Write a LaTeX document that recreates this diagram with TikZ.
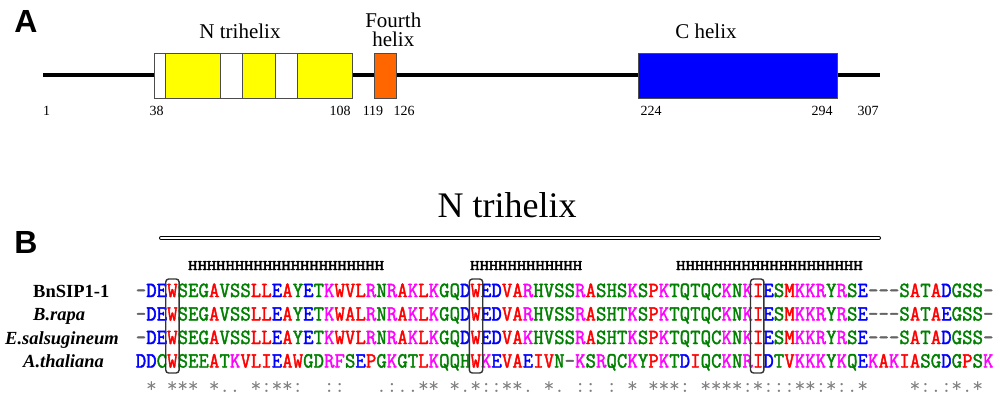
\documentclass[tikz,border=0pt]{standalone}
\usepackage{fontspec}
\usepackage{graphicx}
\setmainfont{Liberation Serif}
\newfontfamily\seqfont{Latin Modern Mono}[FakeBold=2]
\newfontfamily\hfont{Latin Modern Mono}[FakeBold=3]
\newfontfamily\consfont{Latin Modern Mono}
\newfontfamily\panelfont{Liberation Sans}
\definecolor{colb}{RGB}{0,0,255}
\definecolor{colr}{RGB}{255,0,0}
\definecolor{colg}{RGB}{0,128,0}
\definecolor{colm}{RGB}{255,0,255}
\definecolor{coln}{RGB}{100,100,100}
\definecolor{consgray}{RGB}{128,128,128}
\definecolor{domyellow}{RGB}{255,255,0}
\definecolor{domorange}{RGB}{255,102,0}
\definecolor{domblue}{RGB}{0,0,255}
\newcommand\seqrow[3]{\def\rowname{#1}\def\rowy{#2}\def\colidx{0}\seqparse#3\relax\relax}
\def\seqparse#1#2{%
  \ifx\relax#1\else
    \node[res,text=col#1] (\rowname-\colidx) at ({141+10.46*\colidx},\rowy) {\scalebox{1}[1.08]{#2}};%
    \pgfmathtruncatemacro\colidx{\colidx+1}%
    \expandafter\seqparse
  \fi}
\newcommand\consrow[2]{\def\rowy{#1}\def\colidx{0}\consparse#2\relax}
\def\consparse#1{%
  \ifx\relax#1\else
    \if0#1\else\node[cons] (k-\colidx) at ({141+10.46*\colidx},\rowy) {#1};\fi
    \pgfmathtruncatemacro\colidx{\colidx+1}%
    \expandafter\consparse
  \fi}
\begin{document}
\begin{tikzpicture}[x=1pt,y=-1pt,
  res/.style={font=\seqfont\fontsize{20}{20}\selectfont, inner sep=0pt, anchor=base},
  cons/.style={font=\consfont\fontsize{21}{21}\selectfont, text=consgray, inner sep=0pt, anchor=base},
  dom/.style={draw=black!70, line width=0.8pt},
  backbone/.style={line width=4pt},
  domlabel/.style={font=\fontsize{21}{20}\selectfont, inner sep=0pt, anchor=base, align=center},
  posnum/.style={font=\fontsize{14}{14}\selectfont, inner sep=0pt, anchor=base},
  panel/.style={font=\panelfont\bfseries\fontsize{32}{32}\selectfont, inner sep=0pt, anchor=base},
  hrow/.style={font=\hfont\fontsize{18.1}{18.1}\selectfont, inner sep=0pt, anchor=base west},
  species/.style={font=\bfseries\fontsize{18.5}{18.5}\selectfont, inner sep=0pt, anchor=base west},
  hlbox/.style={draw=black!80, line width=1.4pt, rounded corners=3pt},
  dline/.style={line width=0.9pt, double=white, double distance=2.2pt, line cap=round}]
\useasboundingbox (0,0) rectangle (1000,402);
\fill[white] (0,0) rectangle (1000,402);

% ---------- Panel A ----------
\node[panel] (pA) at (26,32) {A};
\coordinate (pstart) at (43,75);
\coordinate (pend) at (880,75);
\draw[backbone] (pstart) -- (pend);
\draw[dom,fill=white] (154,53.5) rectangle (165.7,98.3);
\draw[dom,fill=domyellow] (165.7,53.5) rectangle (220,98.3);
\draw[dom,fill=white] (220,53.5) rectangle (242.3,98.3);
\draw[dom,fill=domyellow] (242.3,53.5) rectangle (275.7,98.3);
\draw[dom,fill=white] (275.7,53.5) rectangle (297.7,98.3);
\draw[dom,fill=domyellow] (297.7,53.5) rectangle (352.7,98.3);
\draw[dom,fill=domorange] (374,53.5) rectangle (396.7,98.3);
\draw[dom,fill=domblue] (638.3,53.5) rectangle (837.7,98.3);
\node[domlabel] (lN) at (240,38) {N trihelix};
\node[domlabel] (lF1) at (393.3,27) {Fourth};
\node[domlabel] (lF2) at (393.3,46) {helix};
\node[domlabel] (lC) at (706,38) {C helix};
\node[posnum] (n1) at (46.7,115) {1};
\node[posnum] (n38) at (156.7,115) {38};
\node[posnum] (n108) at (340,115) {108};
\node[posnum] (n119) at (373,115) {119};
\node[posnum] (n126) at (404,115) {126};
\node[posnum] (n224) at (651,115) {224};
\node[posnum] (n294) at (822,115) {294};
\node[posnum] (n307) at (868,115) {307};

% ---------- Panel B ----------
\node[panel] (pB) at (26,253) {B};
\node[font=\fontsize{36}{36}\selectfont, inner sep=0pt, anchor=base] (title) at (507,217) {N trihelix};
\coordinate (dl1) at (161,238);
\coordinate (dl2) at (879,238);
\draw[dline] (dl1) -- (dl2);
\node[hrow] (h1) at (188,270) {\scalebox{1}[0.8]{HHHHHHHHHHHHHHHHHHHHH}};
\node[hrow] (h2) at (470,270) {\scalebox{1}[0.8]{HHHHHHHHHHHH}};
\node[hrow] (h3) at (676,270) {\scalebox{1}[0.8]{HHHHHHHHHHHHHHHHHHHH}};

\node[species] (s1) at (33,297) {BnSIP1-1};
\node[species] (s2) at (33,320.5) {\itshape B.rapa};
\node[species] (s3) at (5,344) {\itshape E.salsugineum};
\node[species] (s4) at (23,367.5) {\itshape A.thaliana};

\seqrow{a}{297}{n-bDbErWgSgEgGrAgVgSgSrLrLbErAgYbEgTmKrWrVrLmRgNmRrAmKrLmKgGgQbDrWbEbDrVrAmRgHgVgSgSmRrAgSgHgSmKgSrPmKgTgQgTgQgCmKgNmKrIbEgSrMmKmKmRgYmRgSbEn-n-n-gSrAgTrAbDgGgSgSn-}
\seqrow{b}{320.5}{n-bDbErWgSgEgGrAgVgSgSrLrLbErAgYbEgTmKrWrArLmRgNmRrAmKrLmKgGgQbDrWbEbDrVrAmRgHgVgSgSmRrAgSgHgTmKgSrPmKgTgQgTgQgCmKgNmKrIbEgSrMmKmKmRgYmRgSbEn-n-n-gSrAgTrAbEgGgSgSn-}
\seqrow{c}{344}{n-bDbErWgSgEgGrAgVgSgSrLrLbErAgYbEgTmKrWrVrLmRgNmRrAmKrLmKgGgQbDrWbEbDrVrAmKgHgVgSgSmRrAgSgHgTmKgSrPmKgTgQgTgQgCmKgNmKrIbEgSrMmKmKmRgYmRgSbEn-n-n-gSrAgTrAbDgGgSgSn-}
\seqrow{d}{367.5}{bDbDgCrWgSgEgErAgTmKrVrLrIbErArWgGgDmRmFgSbErPgGmKgGgTrLmKgQgQgHrWmKbErVrAbErIrVgNn-mKgSmRgQgCmKgYrPmKgTbDrIgQgCmKgNmRrIbDgTrVmKmKmKgYmKgQbEmKrAmKrIrAgSgGbDgGrPgSmK}
\consrow{392}{0*0***0*..0*:**:00::000.:..**0*.*::**.0*.0::0:0*0***:0****:*:::**:*:.*0000*:.:*.*0}

\draw[hlbox] (165.7,279) rectangle (179.1,373);
\draw[hlbox] (469.3,279) rectangle (482.7,373);
\draw[hlbox] (750.5,279) rectangle (763.9,373);
\end{tikzpicture}
\end{document}
